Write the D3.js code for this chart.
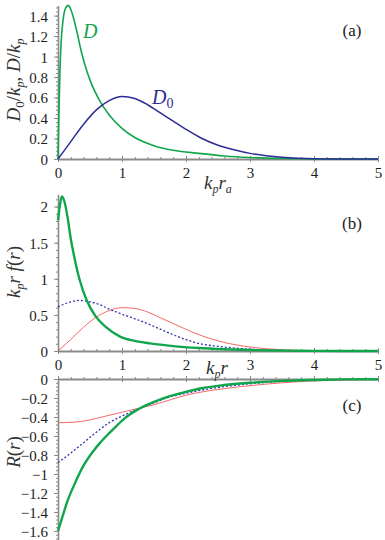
<!DOCTYPE html>
<html>
<head>
<meta charset="utf-8">
<script src="https://cdn.jsdelivr.net/npm/d3@7/dist/d3.min.js"></script>
<style>
  body { margin: 0; background: #fff; }
  svg text { font-family: "Liberation Serif", "Noto Serif", "DejaVu Serif", FreeSerif, Times, serif; }
  .axis path, .axis line { stroke: #8a8a8a; }
  .axis text { fill: #222; }
  .curve { fill: none; stroke-linejoin: round; }
</style>
</head>
<body>
<svg id="chart" width="385" height="540"></svg>
<script>
// ---- data ----
// panel (a): D/kp (green) and D0/kp (blue) vs kp*ra
var aD = [[0,0],[0.01,0.35],[0.03,0.85],[0.05,1.15],[0.08,1.36],[0.11,1.46],[0.16,1.5],[0.2,1.46],
  [0.25,1.36],[0.3,1.23],[0.36,1.06],[0.42,0.92],[0.5,0.77],[0.66,0.56],[0.8,0.43],[1,0.3],[1.2,0.21],
  [1.5,0.13],[1.8,0.085],[2.2,0.055],[2.6,0.03],[3,0.015],[3.5,0.005],[4,0.001],[5,0]];
var aD0 = [[0,0],[0.2,0.17],[0.4,0.34],[0.6,0.48],[0.8,0.57],[1,0.61],[1.2,0.59],[1.4,0.53],[1.6,0.45],
  [1.8,0.37],[2,0.29],[2.25,0.2],[2.5,0.135],[2.75,0.09],[3,0.055],[3.25,0.032],[3.5,0.017],[3.75,0.008],
  [4,0.003],[4.5,0.0005],[5,0]];
// panel (b): kp r f(r)
var bGreen = [[0,1.81],[0.03,2.02],[0.06,2.14],[0.1,2.07],[0.15,1.85],[0.2,1.55],[0.25,1.32],[0.34,0.98],
  [0.45,0.7],[0.58,0.49],[0.75,0.33],[0.97,0.2],[1.2,0.14],[1.44,0.105],[1.8,0.068],[2.2,0.042],[2.6,0.025],
  [3,0.013],[3.5,0.005],[4,0.002],[5,0]];
var bBlue = [[0,0.61],[0.1,0.65],[0.2,0.68],[0.34,0.7],[0.5,0.68],[0.66,0.64],[0.8,0.58],[1,0.51],[1.28,0.42],
  [1.5,0.34],[1.9,0.19],[2.22,0.1],[2.5,0.065],[3,0.025],[3.5,0.008],[4,0.002],[5,0]];
var bRed = [[0,0],[0.2,0.16],[0.4,0.33],[0.6,0.47],[0.8,0.56],[1,0.6],[1.2,0.59],[1.4,0.54],[1.6,0.46],
  [1.8,0.38],[2,0.3],[2.25,0.21],[2.5,0.14],[2.75,0.09],[3,0.055],[3.25,0.032],[3.5,0.017],[3.75,0.008],
  [4,0.003],[4.5,0.0005],[5,0]];
// panel (c): R(r)
var cGreen = [[0,-1.6],[0.07,-1.45],[0.14,-1.3],[0.25,-1.12],[0.4,-0.91],[0.55,-0.76],[0.66,-0.67],[0.8,-0.57],
  [0.92,-0.49],[1.05,-0.41],[1.25,-0.32],[1.5,-0.24],[1.7,-0.19],[2,-0.135],[2.22,-0.1],[2.5,-0.072],
  [3,-0.04],[3.5,-0.02],[4,-0.01],[4.5,-0.004],[5,-0.002]];
var cBlue = [[0,-0.88],[0.2,-0.78],[0.4,-0.67],[0.6,-0.56],[0.8,-0.46],[1,-0.39],[1.2,-0.33],[1.5,-0.25],
  [1.7,-0.2],[2,-0.15],[2.22,-0.12],[2.5,-0.09],[3,-0.05],[3.5,-0.025],[4,-0.012],[4.5,-0.005],[5,-0.002]];
var cRed = [[0,-0.46],[0.25,-0.455],[0.5,-0.43],[0.75,-0.39],[1,-0.35],[1.25,-0.31],[1.5,-0.27],[1.75,-0.22],
  [2,-0.17],[2.22,-0.14],[2.5,-0.11],[3,-0.07],[3.5,-0.04],[4,-0.02],[4.5,-0.01],[5,-0.005]];

var xTicks = [0, 1, 2, 3, 4, 5];
var aTicks = [0, 0.2, 0.4, 0.6, 0.8, 1, 1.2, 1.4];
var bTicks = [0, 0.5, 1, 1.5, 2];
var cTicks = [0, -0.2, -0.4, -0.6, -0.8, -1, -1.2, -1.4, -1.6];

var green = "#12a64c", navy = "#2d2d94", dotBlue = "#3535b0", red = "#f2585a";

var svg = d3.select("#chart");
var x = d3.scaleLinear().domain([0, 5]).range([58, 378]);

var panels = [
  { name: "(a)", labY: 30, dom: [0, 1.5], rng: [159, 5.4], ticks: aTicks, minor: 0.04, xLabels: true,
    series: [ { d: aD, c: green, w: 1.6 }, { d: aD0, c: navy, w: 1.5 } ] },
  { name: "(b)", labY: 223, dom: [0, 2.17], rng: [351, 194.3], ticks: bTicks, minor: 0.1, xLabels: true,
    series: [ { d: bRed, c: red, w: 0.9 }, { d: bBlue, c: dotBlue, w: 1.3, dash: "2,2" }, { d: bGreen, c: green, w: 2.4 } ] },
  { name: "(c)", labY: 405, dom: [-1.69, 0], rng: [539.5, 379], ticks: cTicks, minor: 0.04, xLabels: false,
    series: [ { d: cRed, c: red, w: 0.9 }, { d: cBlue, c: dotBlue, w: 1.3, dash: "2,2" }, { d: cGreen, c: green, w: 2.4 } ] }
];

function fmt(v) {
  return String(+v.toFixed(2)).replace("-", "\u2212");
}

panels.forEach(function(p) {
  var y = d3.scaleLinear().domain(p.dom).range(p.rng);
  var g = svg.append("g");
  var y0 = y(0);

  // y axis: minor ticks, then labelled majors
  var minorY = d3.range(Math.ceil(p.dom[0] / p.minor - 1e-6), Math.floor(p.dom[1] / p.minor + 1e-6) + 1)
    .map(function(i) { return i * p.minor; });
  g.append("g").attr("class", "axis").attr("transform", "translate(" + x(0) + ",0)")
    .call(d3.axisLeft(y).tickValues(minorY).tickSize(2).tickSizeOuter(0).tickFormat(""))
    .select(".domain").attr("stroke-width", 1.6);
  var ya = g.append("g").attr("class", "axis").attr("transform", "translate(" + x(0) + ",0)")
    .call(d3.axisLeft(y).tickValues(p.ticks).tickSize(4).tickPadding(6).tickSizeOuter(0).tickFormat(fmt));
  ya.select(".domain").remove();
  ya.selectAll("text").attr("font-size", 15).attr("dy", "0.36em");

  // x axis
  var minorX = d3.range(0, 26).map(function(i) { return i * 0.2; });
  g.append("g").attr("class", "axis").attr("transform", "translate(0," + y0 + ")")
    .call(d3.axisTop(x).tickValues(minorX).tickSize(2).tickSizeOuter(0).tickFormat(""))
    .select(".domain").attr("stroke-width", 2);
  var xa = g.append("g").attr("class", "axis").attr("transform", "translate(0," + y0 + ")")
    .call(d3.axisBottom(x).tickValues(xTicks).tickSize(3).tickPadding(5).tickSizeOuter(0)
      .tickFormat(p.xLabels ? d3.format("d") : ""));
  xa.select(".domain").remove();
  xa.selectAll("text").attr("font-size", 15);
  xa.selectAll("line").attr("y1", -3);

  var line = d3.line().x(function(d) { return x(d[0]); }).y(function(d) { return y(d[1]); })
    .curve(d3.curveMonotoneX);
  p.series.forEach(function(s) {
    g.append("path").attr("class", "curve").attr("d", line(s.d))
      .attr("stroke", s.c).attr("stroke-width", s.w)
      .attr("stroke-dasharray", s.dash || null);
  });

  g.append("text").attr("x", 352).attr("y", p.labY + 6).attr("text-anchor", "middle")
    .attr("font-size", 17).attr("fill", "#222").text(p.name);
});

// curve labels in panel (a)
svg.append("text").attr("x", 83).attr("y", 38).attr("font-size", 20).attr("font-style", "italic")
  .attr("fill", green).text("D");
var d0 = svg.append("text").attr("x", 152).attr("y", 104).attr("font-size", 20).attr("font-style", "italic")
  .attr("fill", navy).text("D");
d0.append("tspan").attr("font-style", "normal").attr("font-size", 14).attr("dy", 4).text("0");

// axis titles, built from pieces so the subscripts sit low
function title(sel, parts) {
  parts.forEach(function(q) {
    var t = sel.append("tspan").text(q[0]);
    if (q[1] === "sub") t.attr("font-size", 12).attr("dy", 4);
    if (q[1] === "up") t.attr("dy", -4);
    if (q[1] === "subn") t.attr("font-size", 13).attr("dy", 4).attr("font-style", "normal");
    if (q[1] === "n") t.attr("font-style", "normal");
    if (q[1] === "upn") t.attr("dy", -4).attr("font-style", "normal");
  });
}
function axisTitle(tr) {
  return svg.append("text").attr("transform", tr).attr("text-anchor", "middle")
    .attr("font-size", 19).attr("font-style", "italic").attr("fill", "#333");
}

title(svg.append("text").attr("x", 204).attr("y", 189).attr("font-size", 19).attr("font-style", "italic").attr("fill", "#333"),
  [["k"], ["p", "sub"], ["r", "up"], ["a", "sub"]]);
title(svg.append("text").attr("x", 206).attr("y", 374).attr("font-size", 19).attr("font-style", "italic").attr("fill", "#333"),
  [["k"], ["p", "sub"], ["r", "up"]]);
title(axisTitle("translate(20,80) rotate(-90)"),
  [["D"], ["0", "subn"], ["/", "upn"], ["k"], ["p", "sub"], [",", "upn"], [" D"], ["/", "n"], ["k"], ["p", "sub"]]);
title(axisTitle("translate(20,272) rotate(-90)"),
  [["k"], ["p", "sub"], ["r f", "up"], ["(", "n"], ["r"], [")", "n"]]);
title(axisTitle("translate(20,452) rotate(-90)"),
  [["R"], ["(", "n"], ["r"], [")", "n"]]);
</script>
</body>
</html>
